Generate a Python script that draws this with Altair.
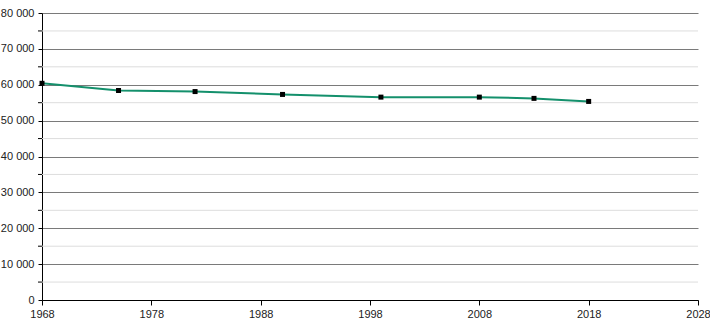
import altair as alt
import pandas as pd

years = [1968, 1975, 1982, 1990, 1999, 2008, 2013, 2018]
population = [60400, 58400, 58100, 57300, 56550, 56550, 56200, 55350]
major_ticks = [0, 10000, 20000, 30000, 40000, 50000, 60000, 70000, 80000]
minor_ticks = [5000, 15000, 25000, 35000, 45000, 55000, 65000, 75000]
x_ticks = [1968, 1978, 1988, 1998, 2008, 2018, 2028]

df = pd.DataFrame({"year": years, "pop": population})
minor_df = pd.DataFrame({"pop": minor_ticks})

yscale = alt.Scale(domain=[0, 80000], nice=False)
xscale = alt.Scale(domain=[1968, 2028], nice=False, zero=False)

x_axis = alt.Axis(values=x_ticks, format="d", title=None,
                  grid=False, domainColor="#000", tickColor="#000", tickSize=5,
                  labelFont="Liberation Sans", labelFontSize=11, labelColor="#222",
                  labelPadding=3, labelFlush=False, labelOverlap=False)
y_axis = alt.Axis(values=major_ticks, title=None,
                  labelExpr="replace(format(datum.value, ',d'), ',', ' ')",
                  grid=True, gridColor="#7a7a7a",
                  domainColor="#000", tickColor="#000", tickSize=4,
                  labelFont="Liberation Sans", labelFontSize=11, labelColor="#222",
                  labelPadding=4, labelOverlap=False)

y = alt.Y("pop:Q", scale=yscale, axis=y_axis)
x = alt.X("year:Q", scale=xscale, axis=x_axis)

minor_grid = alt.Chart(minor_df).mark_rule(color="#dddddd", strokeWidth=1).encode(
    y=y, x=alt.value(0), x2=alt.value(656))
minor_tick = alt.Chart(minor_df).mark_rule(color="#000", strokeWidth=1, clip=False).encode(
    y=y, x=alt.value(-4), x2=alt.value(0))

line = alt.Chart(df).mark_line(color="#14906c", strokeWidth=2, clip=False).encode(x=x, y=y)
pts = alt.Chart(df).mark_square(color="#000", opacity=1, size=25, clip=False).encode(x=x, y=y)

chart = (minor_grid + minor_tick + line + pts).properties(
    width=656, height=287,
    autosize=alt.AutoSizeParams(type="none"),
    padding={"left": 42, "top": 13, "right": 12, "bottom": 20},
).configure_view(stroke=None)

chart.save("out.html", embed_options={"renderer": "svg", "actions": False})
